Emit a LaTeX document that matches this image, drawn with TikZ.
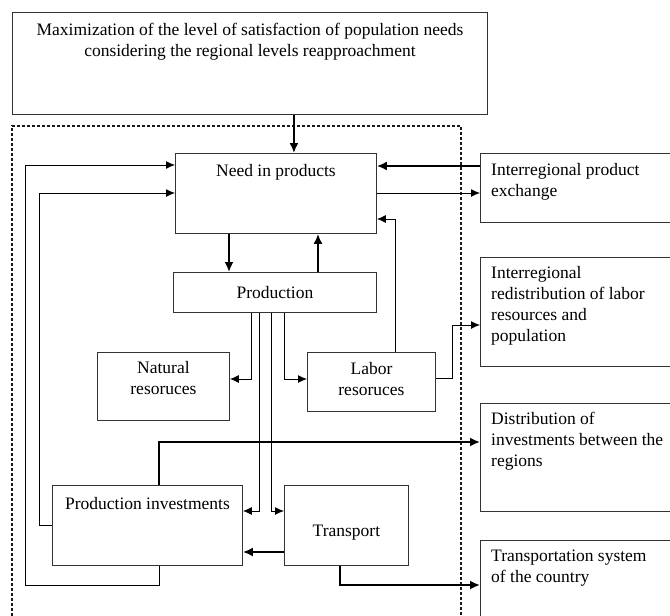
\documentclass[tikz,border=0pt]{standalone}
\usepackage{fontspec}
\setmainfont{Liberation Serif}
\usetikzlibrary{arrows.meta, positioning}

\begin{document}
\begin{tikzpicture}[x=1pt, y=-1pt,
  box/.style={draw=black!80, line width=0.9pt, anchor=north west, inner sep=0pt},
  txt/.style={font=\fontsize{17.5}{21}\selectfont, inner sep=0pt},
  arr/.style={-{Latex[length=9pt, width=8pt]}, line width=0.9pt},
  thickarr/.style={-{Latex[length=10pt, width=9pt]}, line width=1.8pt}]
\clip (0,0) rectangle (670,616);

\node[box, minimum width=475pt, minimum height=102pt,
  label={[txt, align=center, anchor=north, yshift=-11pt]north:{Maximization of the level of satisfaction of population needs\\considering the regional levels reapproachment}}] (goal) at (12,12) {};
\draw[black!90, line width=1.4pt, dash pattern=on 3pt off 2pt] (12,616) |- (461,126) -- (461,616);

\node[box, minimum width=201pt, minimum height=80pt,
  label={[txt, anchor=north, yshift=-11pt]north:Need in products}] (need) at (175,153) {};
\node[box, minimum width=203pt, minimum height=40pt,
  label={[txt]center:Production}] (prod) at (173,272) {};
\node[box, minimum width=132pt, minimum height=68pt,
  label={[txt, align=center, anchor=north, yshift=-9pt]north:{Natural\\resoruces}}] (nat) at (97,352) {};
\node[box, minimum width=128pt, minimum height=59pt,
  label={[txt, align=center, anchor=north, yshift=-10pt]north:{Labor\\resoruces}}] (lab) at (307,352) {};
\node[box, minimum width=190pt, minimum height=80pt,
  label={[txt, anchor=north, yshift=-12pt]north:Production investments}] (pinv) at (52,485) {};
\node[box, minimum width=124pt, minimum height=80pt,
  label={[txt, yshift=-7pt]center:Transport}] (tran) at (284,485) {};

\node[box, minimum width=200pt, minimum height=69pt,
  label={[txt, align=left, anchor=north west, xshift=11pt, yshift=-10pt]north west:{Interregional product\\exchange}}] (exch) at (480,153) {};
\node[box, minimum width=200pt, minimum height=109pt,
  label={[txt, align=left, anchor=north west, xshift=11pt, yshift=-9pt]north west:{Interregional\\redistribution of labor\\resources and\\population}}] (redis) at (480,257) {};
\node[box, minimum width=200pt, minimum height=108pt,
  label={[txt, align=left, anchor=north west, xshift=11pt, yshift=-9pt]north west:{Distribution of\\investments between the\\regions}}] (dist) at (480,403) {};
\node[box, minimum width=200pt, minimum height=90pt,
  label={[txt, align=left, anchor=north west, xshift=11pt, yshift=-10pt]north west:{Transportation system\\of the country}}] (tsys) at (480,540) {};

\draw[thickarr] ([xshift=18pt]need.north |- goal.south) -- ([xshift=18pt]need.north);
\draw[thickarr] ([yshift=-13pt]exch.north west) -- ([yshift=-13pt]exch.north west -| need.east);
\draw[arr] ([yshift=-40pt]need.north east) -- ([yshift=-40pt]need.north east -| exch.west);
\draw[thickarr] ([xshift=54pt]need.south west) -- ([xshift=54pt]need.south west |- prod.north);
\draw[thickarr] ([xshift=145pt]prod.north west) -- ([xshift=145pt]prod.north west |- need.south);

\draw[arr] ([xshift=78pt]prod.south west) |- ([yshift=-27pt]nat.north east);
\draw[arr] ([xshift=111pt]prod.south west) |- ([yshift=-27pt]lab.north west);
\draw[arr] ([xshift=86pt]prod.south west) |- ([yshift=-26pt]pinv.north east);
\draw[arr] ([xshift=98pt]prod.south west) |- ([yshift=-26pt]tran.north west);

\draw[arr] ([xshift=88pt]lab.north west) |- ([yshift=-66pt]need.north east);
\draw[arr] ([yshift=-26pt]lab.north east) -- ++(17,0) |- ([yshift=-68pt]redis.north west);
\draw[thickarr] ([xshift=107pt]pinv.north west) |- ([yshift=-39pt]dist.north west);
\draw[thickarr] ([yshift=-67pt]tran.north west) -- ([yshift=-67pt]tran.north west -| pinv.east);
\draw[thickarr] ([xshift=56pt]tran.south west) |- ([yshift=-45pt]tsys.north west);

\draw[arr] ([xshift=107pt]pinv.south west) -- ++(0,20) -| ([xshift=-150pt, yshift=-12pt]need.north west) -- ([yshift=-12pt]need.north west);
\draw[arr] ([yshift=-40pt]pinv.north west) -| ([xshift=-136pt, yshift=-40pt]need.north west) -- ([yshift=-40pt]need.north west);
\end{tikzpicture}
\end{document}
